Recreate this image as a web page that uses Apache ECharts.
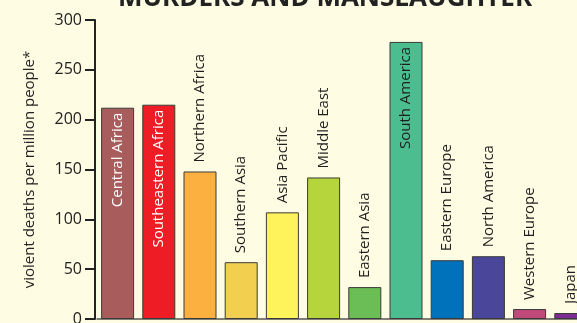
<!DOCTYPE html>
<html>
<head>
<meta charset="utf-8">
<script src="https://cdn.jsdelivr.net/npm/echarts@6/dist/echarts.min.js"></script>
<style>
  html, body { margin: 0; padding: 0; background: #fefce2; }
  #chart { width: 577px; height: 323px; }
</style>
</head>
<body>
<div id="chart"></div>
<script>
var categories = ['Central Africa', 'Southeastern Africa', 'Northern Africa', 'Southern Asia', 'Asia Pacific',
  'Middle East', 'Eastern Asia', 'South America', 'Eastern Europe', 'North America', 'Western Europe', 'Japan'];
var deaths = [212, 215, 148, 57, 107, 142, 32, 278, 59, 63, 10, 6];
var yTicks = [0, 50, 100, 150, 200, 250, 300];

// colours per bar, and which bars carry their label inside
var barColors = ['#a85c5c', '#ee1c25', '#fbb040', '#f2cf4f', '#fff35c', '#b6d43b',
  '#6bbd55', '#4cbd8f', '#0071bb', '#4a469a', '#c0497a', '#7b2d91'];
var insideWhite = ['Central Africa', 'Southeastern Africa'];
var insideDark = ['South America'];

var chart = echarts.init(document.getElementById('chart'));

var barData = deaths.map(function (v, i) {
  var name = categories[i];
  var item = { value: v, itemStyle: { color: barColors[i] } };
  if (insideWhite.indexOf(name) >= 0 || insideDark.indexOf(name) >= 0) {
    item.label = {
      position: 'insideTop',
      align: 'right',
      distance: 5,
      color: insideWhite.indexOf(name) >= 0 ? '#ffffff' : '#1e1e1e'
    };
  }
  return item;
});

chart.setOption({
  backgroundColor: '#fefce2',
  animation: false,
  title: {
    text: 'MURDERS AND MANSLAUGHTER',
    left: 320,
    textAlign: 'center',
    top: -19,
    textStyle: { fontFamily: 'Open Sans', fontWeight: 'bold', fontSize: 26, color: '#222' }
  },
  grid: { left: 97, top: 20, height: 299, width: 494.4, outerBoundsMode: 'none', containLabel: false },
  xAxis: {
    type: 'category',
    data: categories,
    axisTick: { show: false },
    axisLabel: { show: false },
    axisLine: { lineStyle: { color: '#555', width: 1.5 } }
  },
  yAxis: {
    type: 'value',
    min: 0,
    max: 300,
    interval: 50,
    offset: 2,
    name: 'violent deaths per million people*',
    nameLocation: 'middle',
    nameGap: 58,
    nameTextStyle: { fontFamily: 'Open Sans', fontSize: 15, color: '#222' },
    axisLine: { show: true, lineStyle: { color: '#222', width: 2 } },
    axisTick: { show: true, length: 10, lineStyle: { color: '#222', width: 2 } },
    axisLabel: {
      margin: 13,
      fontFamily: 'Open Sans',
      fontSize: 16,
      color: '#222',
      customValues: yTicks
    },
    splitLine: { show: false }
  },
  series: [{
    type: 'bar',
    data: barData,
    barWidth: 33,
    itemStyle: { borderColor: '#3a3a3a', borderWidth: 1 },
    label: {
      show: true,
      formatter: '{b}',
      position: 'top',
      rotate: 90,
      align: 'left',
      verticalAlign: 'middle',
      distance: 9,
      fontFamily: 'Open Sans',
      fontSize: 15,
      color: '#1e1e1e'
    }
  }]
});
</script>
</body>
</html>
